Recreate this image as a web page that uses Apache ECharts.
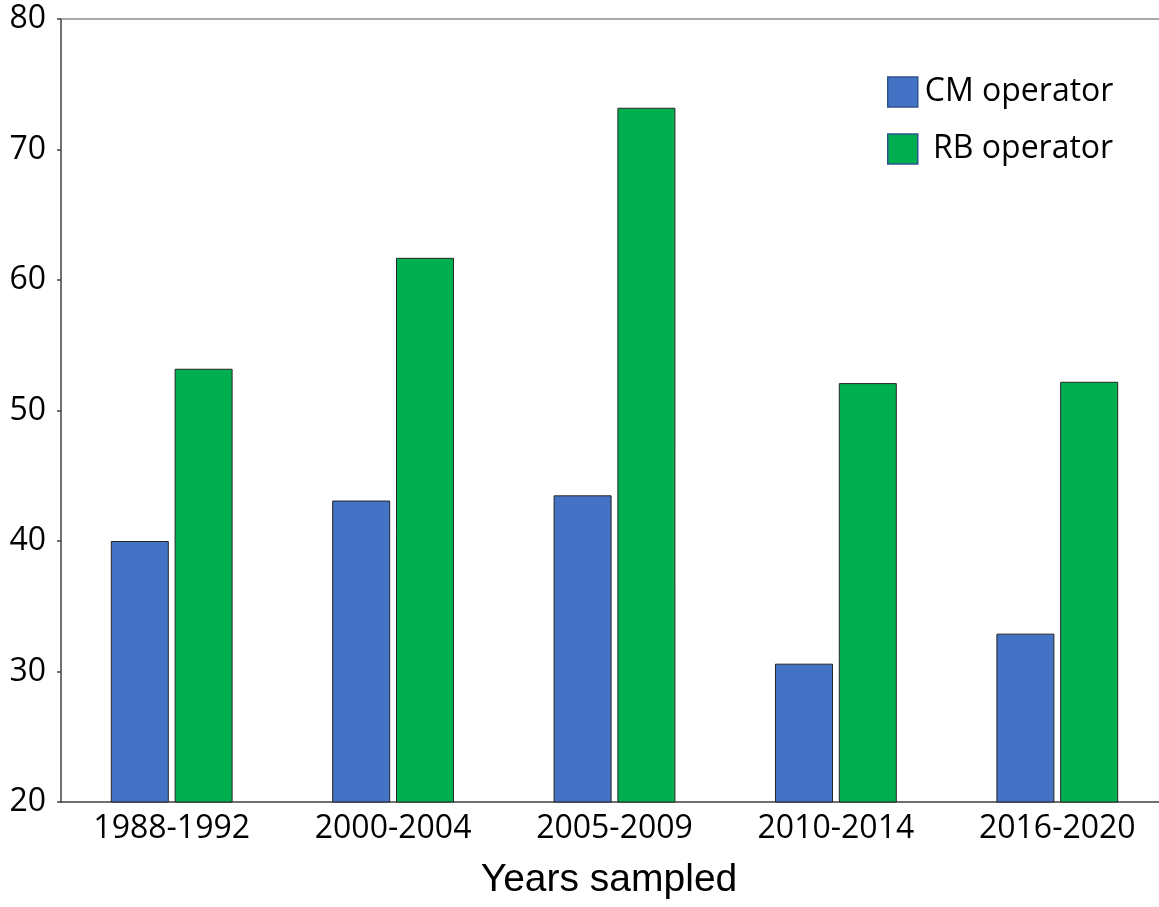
<!DOCTYPE html>
<html><head><meta charset="utf-8">
<script src="https://cdn.jsdelivr.net/npm/echarts@6/dist/echarts.min.js"></script>
<style>html,body{margin:0;padding:0;background:#fff}#c{width:1159px;height:907px}</style>
</head><body><div id="c"></div>
<script>
const categories = ['1988-1992','2000-2004','2005-2009','2010-2014','2016-2020'];
const cmValues = [40.0, 43.1, 43.5, 30.6, 32.9];
const rbValues = [53.2, 61.7, 73.2, 52.1, 52.2];
const yTicks = [20, 30, 40, 50, 60, 70, 80];

const chart = echarts.init(document.getElementById('c'), null, {renderer:'canvas'});
const labelFont = '"Open Sans", "Noto Sans", sans-serif';
chart.setOption({
  animation: false,
  backgroundColor: '#fff',
  grid: {left: 61, top: 19, height: 783, width: 1107, show: false, outerBoundsMode: 'none', containLabel: false},
  legend: {
    orient: 'vertical', left: 882, top: 71, itemWidth: 30, itemHeight: 30, itemGap: 25,
    icon: 'rect',
    data: ['CM operator','RB operator'],
    formatter: function(n){ return n === 'RB operator' ? ' ' + n : n; },
    textStyle: {fontFamily: labelFont, fontSize: 32, color: '#000', padding: [0,0,0,2]},
    itemStyle: {borderColor: '#2F528F', borderWidth: 1.5}
  },
  xAxis: [{
    type: 'category', data: categories,
    axisLine: {lineStyle: {color: '#404040', width: 1.5}},
    axisTick: {alignWithLabel: true, length: 4, lineStyle: {color: '#404040', width: 1.5}},
    axisLabel: {fontFamily: labelFont, fontSize: 32, color: '#000', margin: 11}
  }, {
    type: 'category', data: categories, position: 'top',
    axisLine: {show: true, lineStyle: {color: '#8c8c8c', width: 1.5}},
    axisTick: {show: false}, axisLabel: {show: false}
  }],
  yAxis: {
    type: 'value', min: yTicks[0], max: yTicks[yTicks.length-1], interval: 10,
    splitLine: {show: false},
    axisLine: {show: true, lineStyle: {color: '#404040', width: 1.5}},
    axisTick: {show: true, length: 4, lineStyle: {color: '#404040', width: 1.5}},
    axisLabel: {fontFamily: labelFont, fontSize: 32, color: '#000', margin: 15}
  },
  graphic: [{
    type: 'text', x: 609, y: 900,
    style: {text: 'Years sampled', font: '39px "Liberation Sans", Arial, sans-serif', fill: '#000', align: 'center', verticalAlign: 'bottom'}
  }],
  series: [
    {name: 'CM operator', type: 'bar', data: cmValues, barWidth: 58, barGap: '10%',
     itemStyle: {color: '#4472C4', borderColor: '#262626', borderWidth: 1}},
    {name: 'RB operator', type: 'bar', data: rbValues, barWidth: 58,
     itemStyle: {color: '#00B050', borderColor: '#262626', borderWidth: 1}}
  ]
});
</script></body></html>
